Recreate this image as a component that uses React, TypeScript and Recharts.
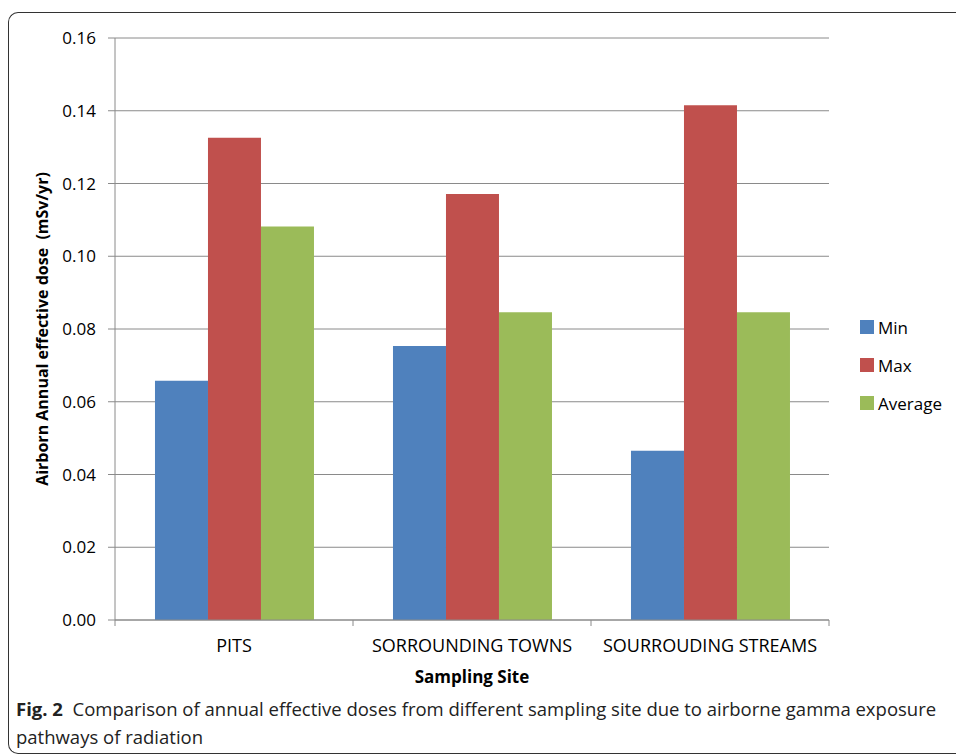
import * as React from 'react';
import { BarChart, Bar, XAxis, YAxis, CartesianGrid, Label } from 'recharts';

const categories = ['PITS', 'SORROUNDING TOWNS', 'SOURROUDING STREAMS'];
const minValues = [0.0658, 0.0753, 0.0465];
const maxValues = [0.1326, 0.1171, 0.1415];
const avgValues = [0.1082, 0.0846, 0.0846];
const yTicks = [0, 0.02, 0.04, 0.06, 0.08, 0.1, 0.12, 0.14, 0.16];

const series = [
    { key: 'min', name: 'Min', color: '#4F81BD' },
    { key: 'max', name: 'Max', color: '#C0504D' },
    { key: 'avg', name: 'Average', color: '#9BBB59' },
];

const data = categories.map((name, i) => ({
    name,
    min: minValues[i],
    max: maxValues[i],
    avg: avgValues[i],
}));

const FONT = '"Open Sans", sans-serif';
const AXIS_GREY = '#8a8a8a';

// category labels + tick marks on the category boundaries (Excel style)
const CategoryTick = (props: any) => {
    const { x, y, payload, index } = props;
    const half = payload && payload.offset ? payload.offset : 119;
    const last = index === categories.length - 1;
    return (
        <g>
            <line x1={x - half} y1={y} x2={x - half} y2={y + 6} stroke={AXIS_GREY} />
            {last && <line x1={x + half} y1={y} x2={x + half} y2={y + 6} stroke={AXIS_GREY} />}
            <text x={x} y={y + 32} textAnchor="middle" fill="#000" fontSize={18} fontFamily={FONT}>
                {payload.value}
            </text>
        </g>
    );
};

export default function App() {
    return (
        <div
            style={{
                position: 'absolute',
                left: 8,
                top: 12,
                width: 948,
                height: 742,
                boxSizing: 'border-box',
                borderLeft: '1px solid #333',
                borderTop: '1px solid #333',
                borderBottom: '1px solid #333',
                borderRadius: '10px 0 0 10px',
                fontFamily: FONT,
            }}
        >
            <BarChart
                width={940}
                height={680}
                data={data}
                margin={{ top: 25, right: 120, left: 0, bottom: 0 }}
                barCategoryGap="16.8%"
                barGap={0}
            >
                <CartesianGrid vertical={false} stroke={AXIS_GREY} />
                <XAxis
                    dataKey="name"
                    height={73}
                    stroke={AXIS_GREY}
                    tickLine={false}
                    tickSize={0}
                    tickMargin={0}
                    tick={<CategoryTick />}
                    interval={0}
                >
                    <Label
                        content={(p: any) => (
                            <text
                                x={p.viewBox.x + p.viewBox.width / 2}
                                y={p.viewBox.y + 63}
                                textAnchor="middle"
                                fontSize={17}
                                fontWeight="bold"
                                fontFamily={FONT}
                                fill="#000"
                            >
                                Sampling Site
                            </text>
                        )}
                    />
                </XAxis>
                <YAxis
                    width={106}
                    domain={[0, 0.16]}
                    ticks={yTicks}
                    interval={0}
                    stroke={AXIS_GREY}
                    tickSize={7}
                    tickMargin={12}
                    tickFormatter={(v: number) => v.toFixed(2)}
                    tick={{ fill: '#000', fontSize: 17, fontFamily: FONT }}
                >
                    <Label
                        content={(p: any) => {
                            const cx = p.viewBox.x + 33;
                            const cy = p.viewBox.y + p.viewBox.height / 2;
                            return (
                                <text
                                    x={cx}
                                    y={cy}
                                    transform={`rotate(-90, ${cx}, ${cy})`}
                                    textAnchor="middle"
                                    dominantBaseline="central"
                                    fontSize={16}
                                    fontWeight="bold"
                                    fontFamily={FONT}
                                    fill="#000"
                                    style={{ whiteSpace: 'pre' }}
                                >
                                    {'Airborn Annual effective dose  (mSv/yr)'}
                                </text>
                            );
                        }}
                    />
                </YAxis>
                {series.map((s) => (
                    <Bar key={s.key} dataKey={s.key} name={s.name} fill={s.color} isAnimationActive={false} />
                ))}
            </BarChart>

            <div style={{ position: 'absolute', left: 851, top: 295 }}>
                {series.map((s) => (
                    <div key={s.key} style={{ display: 'flex', alignItems: 'center', height: 38 }}>
                        <span style={{ width: 14, height: 14, background: s.color, marginRight: 4 }} />
                        <span style={{ fontSize: 17, color: '#000' }}>{s.name}</span>
                    </div>
                ))}
            </div>

            <div
                style={{
                    position: 'absolute',
                    left: 7,
                    top: 682,
                    fontSize: 18.5,
                    lineHeight: '28px',
                    whiteSpace: 'nowrap',
                    color: '#222',
                }}
            >
                <b>Fig. 2</b>&nbsp; Comparison of annual effective doses from different sampling site due to airborne gamma exposure
                <br />
                pathways of radiation
            </div>
        </div>
    );
}
